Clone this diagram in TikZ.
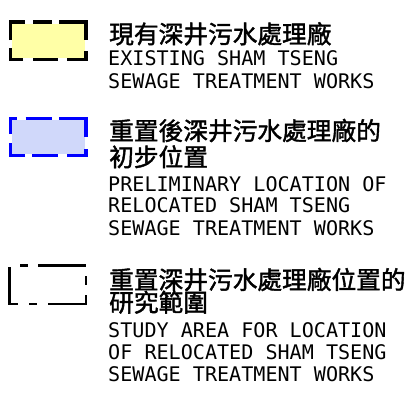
\documentclass[tikz,border=0pt]{standalone}
\usepackage{fontspec}
\newfontfamily\cjk[FakeBold=1.6]{Noto Sans CJK TC}
\newfontfamily\lat{DejaVu Sans Mono}
\definecolor{fillyel}{RGB}{255,255,166}
\definecolor{fillblu}{RGB}{208,216,250}
\definecolor{strblu}{RGB}{0,0,255}
\begin{document}
\begin{tikzpicture}[x=1pt,y=-1pt,
  zh/.style={anchor=base west,inner sep=0pt,font=\cjk\fontsize{24.7}{26}\selectfont},
  en/.style={anchor=base west,inner sep=0pt,font=\lat\fontsize{20.1}{22}\selectfont},
  edge/.style={line width=3.2pt,line cap=butt,line join=miter}]
\useasboundingbox (0,0) rectangle (414,394);
% box 1
\fill[fillyel] (12,23.5) rectangle (84.5,58);
\draw[edge,black] (10.5,40) -- (10.5,22) -- (25,22);
\draw[edge,black] (33,22) -- (52,22);
\draw[edge,black] (59,22) -- (86,22) -- (86,40);
\draw[edge,black] (86,51) -- (86,59.5) -- (67,59.5);
\draw[edge,black] (33,59.5) -- (58,59.5);
\draw[edge,black] (23,59.5) -- (10.5,59.5) -- (10.5,48);
% box 2
\fill[fillblu] (12,119.7) rectangle (84.5,154.3);
\draw[edge,strblu] (10.5,134) -- (10.5,118.2) -- (17.3,118.2);
\draw[edge,strblu] (25.7,118.2) -- (51.7,118.2);
\draw[edge,strblu] (59.3,118.2) -- (86,118.2) -- (86,136.7);
\draw[edge,strblu] (86,149.3) -- (86,155.8) -- (66.7,155.8);
\draw[edge,strblu] (32.3,155.8) -- (58.3,155.8);
\draw[edge,strblu] (25,155.8) -- (10.5,155.8) -- (10.5,143.3);
% box 3
\draw[edge,black,line width=2.9pt] (9.8,267) -- (9.8,304) -- (18.3,304);
\draw[edge,black,line width=2.9pt] (29.3,304) -- (36.7,304);
\draw[edge,black,line width=2.9pt] (48.3,304) -- (86,304) -- (86,295.3);
\draw[edge,black,line width=2.9pt] (86,284.7) -- (86,276);
\draw[edge,black,line width=2.9pt] (38.3,265.5) -- (85.5,265.5);
\draw[edge,black,line width=2.9pt] (20,265.5) -- (28.3,265.5);
% texts 1
\node[zh] (c1a) at (109,43.3) {現有深井污水處理廠};
\node[en] (e1a) at (108,65.7) {EXISTING SHAM TSENG};
\node[en] (e1b) at (108,88.3) {SEWAGE TREATMENT WORKS};
% texts 2
\node[zh] (c2a) at (109,140) {重置後深井污水處理廠的};
\node[zh] (c2b) at (109,166.3) {初步位置};
\node[en] (e2a) at (108,191) {PRELIMINARY LOCATION OF};
\node[en] (e2b) at (108,212.7) {RELOCATED SHAM TSENG};
\node[en] (e2c) at (108,235) {SEWAGE TREATMENT WORKS};
% texts 3
\node[zh] (c3a) at (109,289) {重置深井污水處理廠位置的};
\node[zh] (c3b) at (109,311.6) {研究範圍};
\node[en] (e3a) at (108,337.3) {STUDY AREA FOR LOCATION};
\node[en] (e3b) at (108,359.3) {OF RELOCATED SHAM TSENG};
\node[en] (e3c) at (108,381.7) {SEWAGE TREATMENT WORKS};
\end{tikzpicture}
\end{document}
